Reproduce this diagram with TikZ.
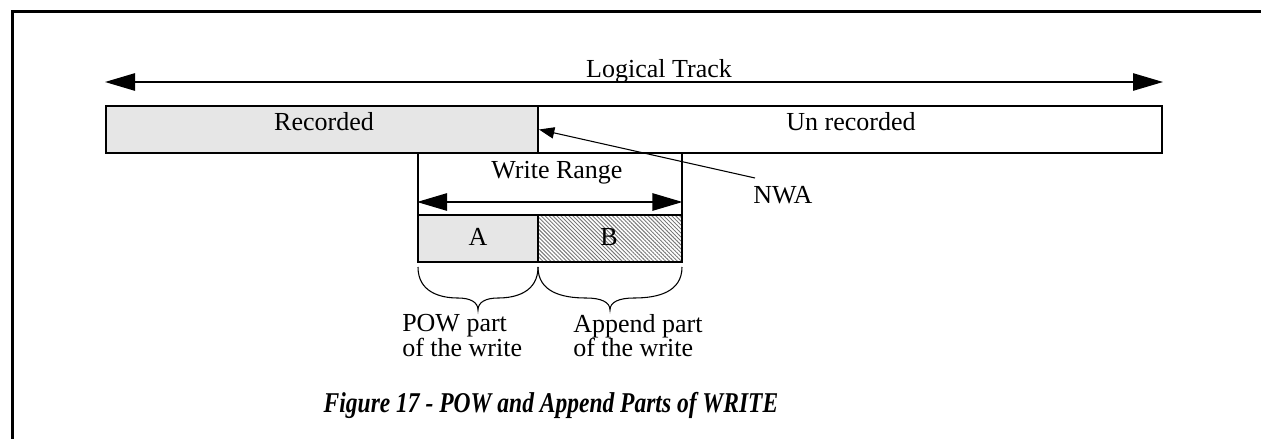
\documentclass[tikz,border=0pt]{standalone}
\usepackage{fontspec}
\usepackage{graphicx}
\setmainfont{Liberation Serif}
\usetikzlibrary{arrows.meta,patterns.meta}
\definecolor{recgray}{RGB}{230,230,230}
\definecolor{hatchgray}{RGB}{120,120,120}
\begin{document}
\begin{tikzpicture}[x=0.75pt,y=-0.75pt,
  box/.style={draw=black,line width=1.5pt,inner sep=0pt,minimum height=35.25pt},
  lbl/.style={inner sep=0pt,font=\fontsize{19.5}{18.4}\selectfont},
  track/.style={line width=1.2pt,{Triangle[length=22.5pt,width=13pt]}-{Triangle[length=22.5pt,width=13pt]}},
  pointer/.style={line width=0.8pt,-{Triangle[length=11.5pt,width=8.5pt]}},
  bracepath/.style={line width=0.8pt},
  hatched/.style={pattern={Lines[angle=-45,distance=2.1pt,line width=0.7pt]},pattern color=hatchgray}]
\useasboundingbox (0,0) rectangle (1261,439);

% page frame (left and top rules)
\draw[line width=2.25pt] (12,439) -- (12,11.5) -- (1261,11.5);

% the logical track: recorded and unrecorded parts
\node[box,fill=recgray,minimum width=324pt] (rec) at (322,129.5) {};
\node[box,minimum width=468pt] (unrec) at (850,129.5) {};
\node[lbl,anchor=base] (rectxt) at (324,130) {Recorded};
\node[lbl,anchor=base] (unrectxt) at (851,130) {Un recorded};

% logical track extent
\coordinate (trkL) at (107,82);
\coordinate (trkR) at (1162,82);
\draw[track] (rec.north west |- trkL) -- (unrec.north east |- trkR);
\node[lbl,anchor=base] (trktxt) at (659,77) {Logical Track};

% write range and its two parts
\node[box,minimum width=198pt,minimum height=46.5pt] (wr) at (550,184) {};
\node[box,fill=recgray,minimum width=90pt] (A) at (478,238.5) {};
\node[box,hatched,minimum width=108pt] (B) at (610,238.5) {};
\node[lbl,anchor=base] (wrtxt) at (557,178) {Write Range};
\node[lbl,anchor=base] (atxt) at (478,245) {A};
\node[lbl,anchor=base] (btxt) at (609,245) {B};
\coordinate (wrrow) at (0,202);
\draw[track] (A.north west |- wrrow) -- (B.north east |- wrrow);

% next writable address
\node[lbl,anchor=base west] (nwa) at (753,203) {NWA};
\coordinate (nwaend) at (755,178);
\draw[pointer] (nwaend) -- (rec.east);

% braces under the two parts
\draw[bracepath] (418,267) .. controls (418,292) and (440,298) .. (458,298)
  .. controls (470,298) and (478,302) .. (478,310)
  .. controls (478,302) and (486,298) .. (498,298)
  .. controls (516,298) and (538,292) .. (538,267);
\draw[bracepath] (538,267) .. controls (538,292) and (562,298) .. (586,298)
  .. controls (601,298) and (610,302) .. (610,310)
  .. controls (610,302) and (619,298) .. (634,298)
  .. controls (658,298) and (682,292) .. (682,267);
\node[lbl,anchor=north west,align=left] (powtxt) at (402,314) {POW part\\of the write};
\node[lbl,anchor=north west,align=left] (apptxt) at (573,314) {Append part\\of the write};

% caption
\node[inner sep=0pt,anchor=base] (cap) at (551,412)
  {\scalebox{0.82}[1]{\fontsize{21.5}{24}\selectfont\bfseries\itshape Figure 17 - POW and Append Parts of WRITE}};
\end{tikzpicture}
\end{document}
